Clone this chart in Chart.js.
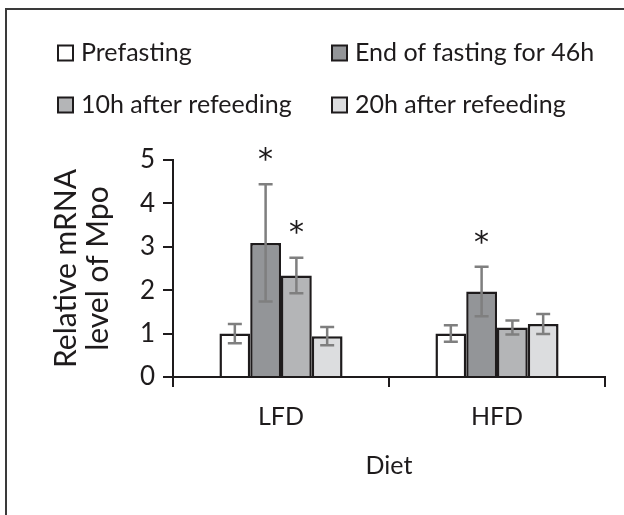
<!DOCTYPE html>
<html>
<head>
<meta charset="utf-8">
<script src="https://cdn.jsdelivr.net/npm/chart.js@4"></script>
<style>
  body { margin: 0; background: #fff; }
  #wrap { position: relative; width: 624px; height: 515px; }
  #frame { position: absolute; left: 5px; top: 8px; right: 0; bottom: 0;
           border-left: 2px solid #3a3a3a; border-top: 2px solid #3a3a3a; }
  canvas { position: absolute; left: 0; top: 0; }
</style>
</head>
<body>
<div id="wrap">
  <div id="frame"></div>
  <canvas id="chart" width="624" height="515"></canvas>
</div>
<script>
// Data
const categories = ["LFD", "HFD"];
const seriesLabels = ["Prefasting", "End of fasting for 46h", "10h after refeeding", "20h after refeeding"];
const seriesColors = ["#ffffff", "#939598", "#b4b5b7", "#dcdddf"];

const prefasting = [1.0, 1.0];
const endFasting = [3.09, 1.97];
const refeed10h = [2.34, 1.14];
const refeed20h = [0.94, 1.22];

const prefastingErr = [0.22, 0.19];
const endFastingErr = [1.35, 0.57];
const refeed10hErr = [0.41, 0.16];
const refeed20hErr = [0.21, 0.23];

// asterisk marks
const prefastingSig = [false, false];
const endFastingSig = [true, true];
const refeed10hSig = [true, false];
const refeed20hSig = [false, false];

const yTicks = [0, 1, 2, 3, 4, 5];

const FONT = "Lato, 'Open Sans', sans-serif";
const INK = "#1e1b1c";

const allValues = [prefasting, endFasting, refeed10h, refeed20h];
const allErrors = [prefastingErr, endFastingErr, refeed10hErr, refeed20hErr];
const allSig = [prefastingSig, endFastingSig, refeed10hSig, refeed20hSig];

// error bars + asterisks
const errorBarPlugin = {
  id: "errorBars",
  afterDatasetsDraw(chart) {
    const ctx = chart.ctx;
    const y = chart.scales.y;
    chart.data.datasets.forEach((ds, i) => {
      const meta = chart.getDatasetMeta(i);
      meta.data.forEach((bar, j) => {
        const v = ds.data[j];
        const e = ds.errors[j];
        const top = y.getPixelForValue(v + e);
        const bot = y.getPixelForValue(v - e);
        ctx.save();
        ctx.strokeStyle = "#7f7f7f";
        ctx.lineWidth = 2.5;
        ctx.beginPath();
        ctx.moveTo(bar.x, top);
        ctx.lineTo(bar.x, bot);
        ctx.moveTo(bar.x - 7, top);
        ctx.lineTo(bar.x + 7, top);
        ctx.moveTo(bar.x - 7, bot);
        ctx.lineTo(bar.x + 7, bot);
        ctx.stroke();
        if (ds.sig[j]) {
          ctx.fillStyle = INK;
          ctx.font = "30px 'DejaVu Sans', sans-serif";
          ctx.textAlign = "center";
          ctx.textBaseline = "middle";
          ctx.fillText("*", bar.x, top - 23);
        }
        ctx.restore();
      });
    });
  }
};

// legend in two columns
const legendPlugin = {
  id: "gridLegend",
  afterDraw(chart) {
    const ctx = chart.ctx;
    const cols = [58, 332];
    const rows = [53, 105];
    chart.data.datasets.forEach((ds, i) => {
      const bx = cols[i % 2];
      const cy = rows[Math.floor(i / 2)];
      ctx.save();
      ctx.fillStyle = ds.backgroundColor;
      ctx.fillRect(bx, cy - 7.5, 15, 15);
      ctx.strokeStyle = INK;
      ctx.lineWidth = 2;
      ctx.strokeRect(bx, cy - 7.5, 15, 15);
      ctx.fillStyle = INK;
      ctx.font = "25px " + FONT;
      ctx.textAlign = "left";
      ctx.textBaseline = "middle";
      ctx.fillText(ds.label, bx + 23, cy);
      ctx.restore();
    });
  }
};

new Chart(document.getElementById("chart"), {
  type: "bar",
  data: {
    labels: categories,
    datasets: seriesLabels.map((label, i) => ({
      label: label,
      data: allValues[i],
      errors: allErrors[i],
      sig: allSig[i],
      backgroundColor: seriesColors[i],
      borderColor: INK,
      borderWidth: 2.5,
      categoryPercentage: 0.57,
      barPercentage: 1.0,
    })),
  },
  options: {
    responsive: false,
    animation: false,
    events: [],
    layout: { padding: { left: 0, top: 160, right: 19, bottom: 0 } },
    plugins: {
      legend: { display: false },
      tooltip: { enabled: false },
    },
    scales: {
      x: {
        afterFit(scale) { scale.height = 138; },
        grid: { drawOnChartArea: false, tickLength: 10, color: INK, lineWidth: 2, offset: true },
        border: { color: INK, width: 2 },
        ticks: { color: INK, font: { family: FONT, size: 25 }, padding: 15 },
        title: {
          display: true,
          text: "Diet",
          color: INK,
          font: { family: FONT, size: 25 },
          padding: { top: 0, bottom: 34 },
        },
      },
      y: {
        min: 0,
        max: 5,
        afterFit(scale) { scale.width = 173; },
        afterBuildTicks(scale) { scale.ticks = yTicks.map((v) => ({ value: v })); },
        grid: { drawOnChartArea: false, tickLength: 10, color: INK, lineWidth: 2 },
        border: { color: INK, width: 2 },
        ticks: { color: INK, font: { family: FONT, size: 26 }, padding: 8 },
        title: {
          display: true,
          text: ["Relative mRNA", "level of Mpo"],
          color: INK,
          font: { family: FONT, size: 30, lineHeight: 1.07 },
          padding: { top: 50, bottom: 0 },
        },
      },
    },
  },
  plugins: [errorBarPlugin, legendPlugin],
});
</script>
</body>
</html>
